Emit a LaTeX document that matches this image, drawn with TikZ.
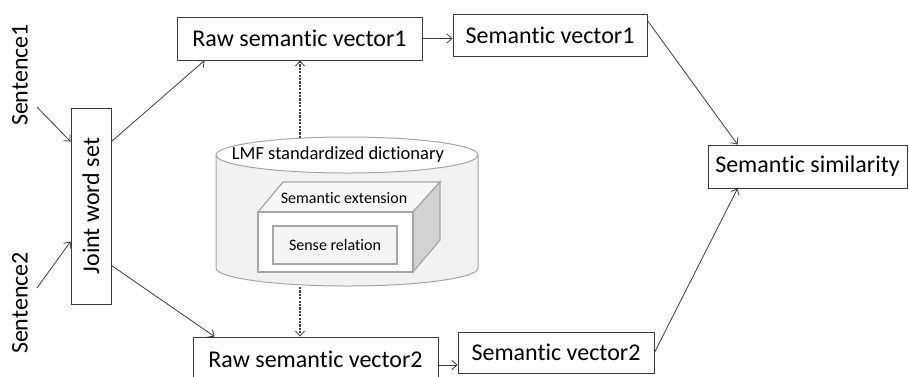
\documentclass[tikz,border=0pt]{standalone}
\usepackage{graphicx}
\usepackage{fontspec}
\setmainfont{Carlito}[Ligatures=CommonOff]
\usetikzlibrary{arrows.meta}
\definecolor{ln}{HTML}{3A3A3A}
\tikzset{
  box/.style={draw=ln, line width=0.9pt, fill=white, inner sep=0pt, font=\fontsize{24}{26}\selectfont, text=black},
  conn/.style={draw=ln, line width=0.8pt, -{Straight Barb[length=5pt,width=9pt,line width=0.8pt]}},
  dashconn/.style={draw=gray!50!black, line width=1.1pt, dash pattern=on 2.2pt off 1.2pt, -{Straight Barb[length=5pt,width=9pt,line width=0.8pt]}},
  lbl/.style={font=\fontsize{24}{26}\selectfont, inner sep=0pt},
  small/.style={font=\fontsize{18.5}{20}\selectfont, inner sep=0pt},
  smaller/.style={font=\fontsize{16}{18}\selectfont, inner sep=0pt},
}
\begin{document}
\begin{tikzpicture}[x=1pt,y=-1pt]
\useasboundingbox (0,0) rectangle (909,376);
% cylinder
\path[fill=gray!10, draw=gray!70, line width=1pt]
  (216,155) -- (216,268) arc[start angle=180, end angle=0, x radius=131, y radius=18] -- (478,155) -- cycle;
\path[fill=white, draw=gray!70, line width=1pt] (347,155) ellipse[x radius=131, y radius=18];
\node[small] (lmf) at (338,155) {LMF standardized dictionary};
% 3D box
\path[fill=gray!6, draw=gray!70, line width=1.2pt] (258,212) -- (283,182) -- (440,182) -- (413,212) -- cycle;
\path[fill=gray!35, draw=gray!70, line width=1.2pt] (413,212) -- (440,182) -- (440,240) -- (413,272) -- cycle;
\path[fill=white, draw=gray!70, line width=1.2pt] (258,212) rectangle (413,272);
\node[smaller] (ext) at (344,198) {Semantic extension};
\node[smaller, draw=gray!70, line width=1.4pt, fill=gray!8, minimum width=124pt, minimum height=38pt] (sense) at (335,245) {Sense relation};
\coordinate (cyltop) at (300,138);
\coordinate (cylbot) at (300,287);
% main nodes
\node[lbl, rotate=90] (s1) at (20,75) {Sentence1};
\node[lbl, rotate=90] (s2) at (20,303) {Sentence2};
\coordinate (s1a) at (37,107);
\coordinate (s2a) at (37,288);
\node[box, minimum width=40pt, minimum height=196pt] (jws) at (91,206) {\rotatebox{90}{Joint word set}};
\node[box, minimum width=245pt, minimum height=43pt] (raw1) at (299.5,38.5) {Raw semantic vector1};
\node[box, minimum width=194pt, minimum height=42pt] (sv1) at (550,35) {Semantic vector1};
\node[box, minimum width=245pt, minimum height=44pt] (raw2) at (315.5,359) {Raw semantic vector2};
\node[box, minimum width=196pt, minimum height=41pt] (sv2) at (556,352.5) {Semantic vector2};
\node[box, minimum width=199pt, minimum height=43pt] (ss) at (807.5,166.5) {Semantic similarity};
% connectors
\draw[conn] (s1a) -- ([yshift=-34pt]jws.north west);
\draw[conn] (s2a) -- ([yshift=63pt]jws.south west);
\draw[conn] ([yshift=-34pt]jws.north east) -- ([xshift=28pt]raw1.south west);
\draw[conn] ([yshift=39pt]jws.south east) -- ([xshift=22pt]raw2.north west);
\draw[conn] (raw1.east) -- (raw1.east -| sv1.west);
\draw[conn] ([yshift=-6pt]raw2.east) -- ([yshift=-6pt]raw2.east -| sv2.west);
\draw[conn] ([yshift=-7pt]sv1.north east) -- ([xshift=30pt]ss.north west);
\draw[conn] (sv2.east) -- ([xshift=30pt]ss.south west);
\draw[dashconn] (cyltop) -- (raw1.south -| cyltop);
\draw[dashconn] (cylbot) -- (raw2.north -| cylbot);
\end{tikzpicture}
\end{document}
